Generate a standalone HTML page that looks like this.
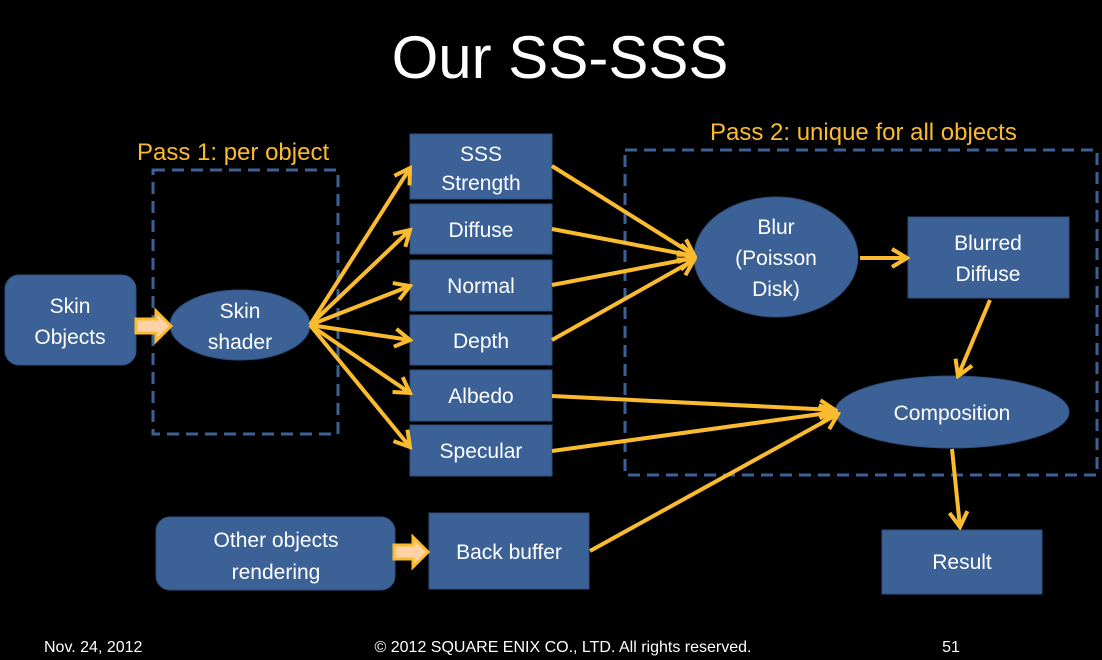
<!DOCTYPE html>
<html><head><style>
body{margin:0;background:#000;}
svg{display:block;font-family:"Liberation Sans",sans-serif;}
.b{fill:#3b6197;stroke:#2f4f7c;stroke-width:1}
.t{fill:#fff;font-size:21px;text-anchor:middle}
.a{stroke:#fbbb2e;stroke-width:4;fill:none}
.d{stroke:#3b6197;stroke-width:3;fill:none;stroke-dasharray:12 7}
</style></head><body>
<svg width="1102" height="660" viewBox="0 0 1102 660">
<defs><marker id="m" markerWidth="20" markerHeight="22" refX="17" refY="11" orient="auto" markerUnits="userSpaceOnUse" viewBox="0 0 20 22"><path d="M2,2 L17,11 L2,20" fill="none" stroke="#fbbb2e" stroke-width="4"/></marker></defs>
<rect width="1102" height="660" fill="#000"/>
<text x="560" y="78" fill="#fff" font-size="60" text-anchor="middle">Our SS-SSS</text>
<text x="137" y="160" fill="#fbbb2e" font-size="24">Pass 1: per object</text>
<text x="710" y="140" fill="#fbbb2e" font-size="24">Pass 2: unique for all objects</text>
<rect class="d" x="153" y="170" width="185" height="264"/>
<rect class="d" x="625" y="150" width="472" height="325"/>
<rect class="b" x="5" y="275" width="131" height="90" rx="14"/>
<text class="t" x="70" y="313">Skin</text><text class="t" x="70" y="344">Objects</text>
<ellipse class="b" cx="240" cy="325" rx="70" ry="35"/>
<text class="t" x="240" y="318">Skin</text><text class="t" x="240" y="349">shader</text>
<rect class="b" x="410" y="134" width="142" height="65"/>
<text class="t" x="481" y="161">SSS</text><text class="t" x="481" y="190">Strength</text>
<rect class="b" x="410" y="204" width="142" height="50"/><text class="t" x="481" y="237">Diffuse</text>
<rect class="b" x="410" y="260" width="142" height="51"/><text class="t" x="481" y="293">Normal</text>
<rect class="b" x="410" y="315" width="142" height="50"/><text class="t" x="481" y="348">Depth</text>
<rect class="b" x="410" y="370" width="142" height="51"/><text class="t" x="481" y="403">Albedo</text>
<rect class="b" x="410" y="425" width="142" height="51"/><text class="t" x="481" y="458">Specular</text>
<ellipse class="b" cx="776" cy="257" rx="82" ry="60"/>
<text class="t" x="776" y="234">Blur</text><text class="t" x="776" y="265">(Poisson</text><text class="t" x="776" y="296">Disk)</text>
<rect class="b" x="908" y="217" width="161" height="81"/>
<text class="t" x="988" y="250">Blurred</text><text class="t" x="988" y="281">Diffuse</text>
<ellipse class="b" cx="952" cy="412" rx="117" ry="36"/><text class="t" x="952" y="420">Composition</text>
<rect class="b" x="882" y="530" width="160" height="64"/><text class="t" x="962" y="569">Result</text>
<rect class="b" x="156" y="517" width="239" height="73" rx="14"/>
<text class="t" x="276" y="547">Other objects</text><text class="t" x="276" y="579">rendering</text>
<rect class="b" x="429" y="513" width="160" height="76"/><text class="t" x="509" y="559">Back buffer</text>
<g class="a" marker-end="url(#m)">
<line x1="310" y1="325" x2="410" y2="168"/>
<line x1="310" y1="325" x2="410" y2="230"/>
<line x1="310" y1="325" x2="410" y2="286"/>
<line x1="310" y1="325" x2="410" y2="340"/>
<line x1="310" y1="325" x2="410" y2="393"/>
<line x1="310" y1="325" x2="410" y2="447"/>
<line x1="552" y1="166" x2="694" y2="255"/>
<line x1="552" y1="229" x2="694" y2="256"/>
<line x1="552" y1="285" x2="694" y2="258"/>
<line x1="552" y1="340" x2="694" y2="260"/>
<line x1="860" y1="258" x2="907" y2="258"/>
<line x1="990" y1="300" x2="958" y2="376"/>
<line x1="552" y1="396" x2="835" y2="410"/>
<line x1="552" y1="451" x2="835" y2="412"/>
<line x1="590" y1="551" x2="838" y2="414"/>
<line x1="952" y1="449" x2="960" y2="527"/>
</g>
<path d="M136,319 H156 V311 L171,326 L156,341 V333 H136 Z" fill="#fcd2a6" stroke="#fbbb2e" stroke-width="3"/>
<path d="M394,545 H413 V537 L428,552 L413,567 V559 H394 Z" fill="#fcd2a6" stroke="#fbbb2e" stroke-width="3"/>
<text x="44" y="652" fill="#fff" font-size="16">Nov. 24, 2012</text>
<text x="563" y="652" fill="#fff" font-size="16" text-anchor="middle">© 2012 SQUARE ENIX CO., LTD. All rights reserved.</text>
<text x="951" y="652" fill="#fff" font-size="16" text-anchor="middle">51</text>
</svg>
</body></html>
